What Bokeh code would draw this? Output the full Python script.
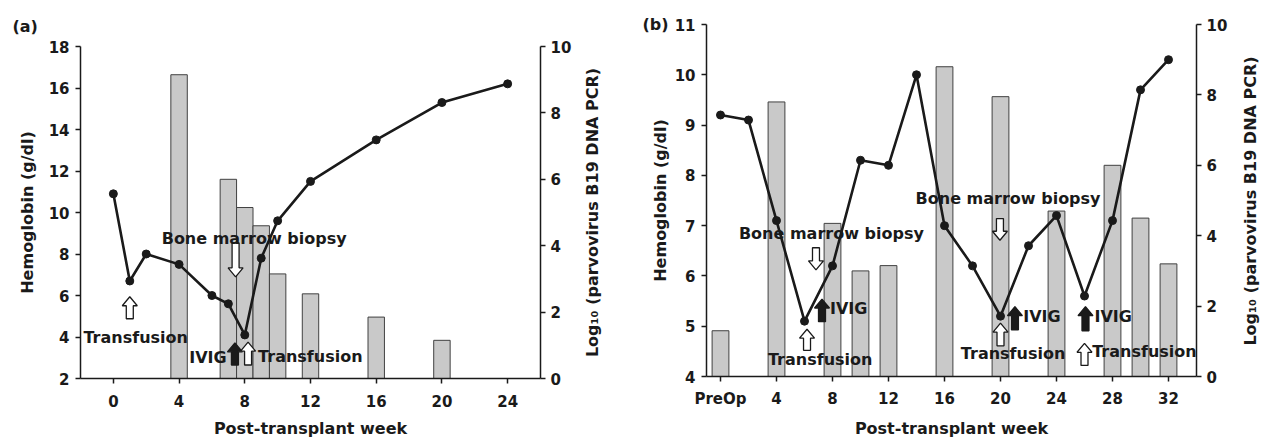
import math
from bokeh.plotting import figure
from bokeh.models import Range1d, LinearAxis, FixedTicker, Label, Title
from bokeh.layouts import row
from bokeh.embed import file_html
from bokeh.resources import INLINE

# ---------------- data ----------------
# Panel (a)
weeks_a_hgb = [0, 1, 2, 4, 6, 7, 8, 9, 10, 12, 16, 20, 24]
hgb_a = [10.9, 6.7, 8.0, 7.5, 6.0, 5.6, 4.1, 7.8, 9.6, 11.5, 13.5, 15.3, 16.2]
weeks_a_pcr = [4, 7, 8, 9, 10, 12, 16, 20]
pcr_a = [9.15, 6.0, 5.15, 4.6, 3.15, 2.55, 1.85, 1.15]
xticks_a = [0, 4, 8, 12, 16, 20, 24]

# Panel (b)
weeks_b_hgb = [0, 2, 4, 6, 8, 10, 12, 14, 16, 18, 20, 22, 24, 26, 28, 30, 32]
hgb_b = [9.2, 9.1, 7.1, 5.1, 6.2, 8.3, 8.2, 10.0, 7.0, 6.2, 5.2, 6.6, 7.2, 5.6, 7.1, 9.7, 10.3]
weeks_b_pcr = [0, 4, 8, 10, 12, 16, 20, 24, 28, 30, 32]
pcr_b = [1.3, 7.8, 4.35, 3.0, 3.15, 8.8, 7.95, 4.7, 6.0, 4.5, 3.2]
xticks_b = [0, 4, 8, 12, 16, 20, 24, 28, 32]
xtick_labels_b = ["PreOp", "4", "8", "12", "16", "20", "24", "28", "32"]

# Annotations: (week, hgb_base, hgb_tip, filled)
arrows_a = [(1.0, 4.88, 5.94, False), (7.44, 8.53, 6.9, False),
            (7.4, 2.65, 3.72, True), (8.2, 2.65, 3.75, False)]
texts_a = [("Transfusion", 1.36, 4.0), ("Bone marrow biopsy", 8.57, 8.77),
           ("IVIG", 5.76, 3.01), ("Transfusion", 11.99, 3.05)]
arrows_b = [(6.82, 6.56, 6.12, False), (7.25, 5.09, 5.54, True), (6.18, 4.52, 4.94, False),
            (19.96, 7.14, 6.71, False), (20.0, 4.61, 5.06, False), (21.03, 4.93, 5.39, True),
            (26.07, 4.91, 5.39, True), (26.0, 4.22, 4.66, False)]
texts_b = [("Bone marrow biopsy", 7.92, 6.85), ("IVIG", 9.16, 5.36), ("Transfusion", 7.12, 4.33),
           ("Bone marrow biopsy", 20.54, 7.54), ("IVIG", 22.96, 5.19), ("Transfusion", 20.9, 4.46),
           ("IVIG", 28.05, 5.19), ("Transfusion", 30.28, 4.5)]

RIGHT_LABEL = "Log\u2081\u2080 (parvovirus B19 DNA PCR)"
FONT = "DejaVu Sans"
INK = "#1a1a1a"
BAR_FILL = "#c9c9c9"
BAR_LINE = "#404040"


def no_align(p):
    try:
        p.frame_align = False
    except Exception:
        pass


def style_axis(ax, standoff_label, standoff_title):
    ax.axis_line_width = 1.5
    ax.axis_line_color = INK
    ax.major_tick_line_width = 1.5
    ax.major_tick_line_color = INK
    ax.major_tick_out = 5
    ax.major_tick_in = 0
    ax.minor_tick_line_color = None
    ax.major_label_text_font = FONT
    ax.major_label_text_font_style = "bold"
    ax.major_label_text_font_size = "15px"
    ax.major_label_text_color = INK
    ax.major_label_standoff = standoff_label
    ax.axis_label_text_font = FONT
    ax.axis_label_text_font_style = "bold"
    ax.axis_label_text_font_size = "16px"
    ax.axis_label_text_color = INK
    ax.axis_label_standoff = standoff_title


def arrow_poly(x, yb, yt, sx, sy, shaft=7.0, head=15.0, headlen=9.0):
    d = 1.0 if yt > yb else -1.0
    hw = shaft / 2.0 / sx
    hh = head / 2.0 / sx
    hl = headlen / sy * d
    xs = [x - hw, x - hw, x - hh, x, x + hh, x + hw, x + hw]
    ys = [yb, yt - hl, yt - hl, yt, yt - hl, yt - hl, yb]
    return xs, ys


def panel(width, height, xr, yr, mb_left, mb_right, mb_top, mb_bottom,
          wk_h, hgb, wk_p, pcr, bar_w, xticks, xlabels, yticks,
          arrows, texts, x_st, left_st):
    p = figure(width=width, height=height, x_range=Range1d(*xr), y_range=Range1d(*yr),
               output_backend="svg", toolbar_location=None, title=None,
               min_border_left=mb_left, min_border_right=mb_right,
               min_border_top=mb_top, min_border_bottom=mb_bottom)
    no_align(p)
    p.outline_line_color = None
    p.grid.visible = False
    p.background_fill_color = "white"
    p.border_fill_color = "white"
    p.extra_y_ranges = {"pcr": Range1d(0, 10)}

    p.vbar(x=wk_p, top=pcr, bottom=0, width=bar_w, y_range_name="pcr",
           fill_color=BAR_FILL, line_color=BAR_LINE, line_width=1)
    p.line(wk_h, hgb, line_color=INK, line_width=2.6)
    p.scatter(wk_h, hgb, size=8, fill_color=INK, line_color=INK)

    frame_w = width - mb_left - mb_right
    frame_h = height - mb_top - mb_bottom
    sx = frame_w / (xr[1] - xr[0])
    sy = frame_h / (yr[1] - yr[0])
    for (x, yb, yt, filled) in arrows:
        xs, ys = arrow_poly(x, yb, yt, sx, sy)
        p.patch(xs, ys, fill_color=INK if filled else "white", line_color=INK, line_width=1.3)

    for (t, x, y) in texts:
        p.add_layout(Label(x=x, y=y, text=t, text_align="center", text_baseline="middle",
                           text_font=FONT, text_font_style="bold", text_font_size="16px",
                           text_color=INK))

    xa = p.xaxis[0]
    xa.ticker = FixedTicker(ticks=xticks)
    if xlabels is not None:
        xa.major_label_overrides = {t: l for t, l in zip(xticks, xlabels)}
    xa.axis_label = "Post-transplant week"
    style_axis(xa, x_st[0], x_st[1])

    ya = p.yaxis[0]
    ya.ticker = FixedTicker(ticks=yticks)
    ya.axis_label = "Hemoglobin (g/dl)"
    style_axis(ya, 6, left_st)

    ra = LinearAxis(y_range_name="pcr", ticker=FixedTicker(ticks=[0, 2, 4, 6, 8, 10]))
    style_axis(ra, 5, 0)
    p.add_layout(ra, "right")
    return p


def label_strip(width, height, mb_left, mb_top, mb_bottom, text):
    f = figure(width=width, height=height, output_backend="svg", toolbar_location=None,
               title=None, x_axis_location=None, y_axis_location=None,
               min_border_left=mb_left, min_border_right=0,
               min_border_top=mb_top, min_border_bottom=mb_bottom)
    no_align(f)
    f.outline_line_color = None
    f.grid.visible = False
    f.add_layout(Title(text=text, align="center", standoff=0, text_font=FONT,
                       text_font_style="bold", text_font_size="16px", text_color=INK), "left")
    return f


pa = panel(580, 440, (-2, 26), (2, 18), 80, 40, 46, 62,
           weeks_a_hgb, hgb_a, weeks_a_pcr, pcr_a, 1.0, xticks_a, None,
           list(range(2, 19, 2)), arrows_a, texts_a, (11, 9), 9)
pa.add_layout(Title(text="(a)", align="left", offset=-68, standoff=22,
                    text_font=FONT, text_font_style="bold", text_font_size="16px",
                    text_color=INK), "above")
la = label_strip(40, 440, 21, 46, 62, RIGHT_LABEL)

pb = panel(610, 440, (-1, 34), (4, 11), 86, 33, 24, 63,
           weeks_b_hgb, hgb_b, weeks_b_pcr, pcr_b, 1.2, xticks_b, xtick_labels_b,
           list(range(4, 12)), arrows_b, texts_b, (8, 8), 2)
tag_b = LinearAxis(ticker=FixedTicker(ticks=[11]), major_label_overrides={11: "(b)"},
                   axis_line_color=None, major_tick_line_color=None,
                   minor_tick_line_color=None, major_label_standoff=-27,
                   major_label_text_font=FONT, major_label_text_font_style="bold",
                   major_label_text_font_size="16px", major_label_text_color=INK)
pb.add_layout(tag_b, "left")
lb = label_strip(31, 440, 29, 24, 63, RIGHT_LABEL)

layout = row(pa, la, pb, lb)
open("out.html", "w").write(file_html(layout, INLINE))
